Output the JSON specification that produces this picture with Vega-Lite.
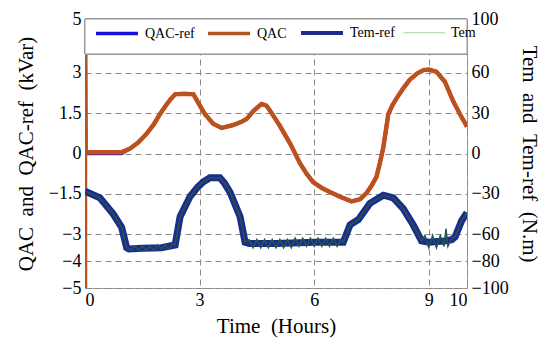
{
  "$schema": "https://vega.github.io/schema/vega-lite/v6.json",
  "width": 382,
  "height": 269,
  "autosize": "none",
  "padding": {"left": 85, "top": 19, "right": 83, "bottom": 60},
  "background": "white",
  "config": {
    "font": "Liberation Serif",
    "view": {"stroke": "#9a9a9a"},
    "axis": {
      "labelFont": "Liberation Serif", "labelFontSize": 18, "labelColor": "#000",
      "titleFont": "Liberation Serif", "titleFontSize": 21, "titleFontWeight": "normal", "titleColor": "#000",
      "ticks": false, "domain": false, "gridColor": "#8a8a8a", "gridDash": [6, 4], "gridOpacity": 1, "labelPadding": 4
    },
    "legend": {
      "labelFont": "Liberation Serif", "labelFontSize": 14, "labelColor": "#000",
      "symbolType": "stroke", "symbolSize": 1764, "labelOffset": 5, "columnPadding": 6, "padding": 0
    }
  },
  "data": {"values": [
    {"t": 0, "series": "QAC", "v": -6},
    {"t": 0, "series": "QAC", "v": 6},
    {"t": 0.02, "series": "QAC", "v": 0.05},
    {"t": 0.5, "series": "QAC", "v": 0.05},
    {"t": 0.96, "series": "QAC", "v": 0.05},
    {"t": 1.18, "series": "QAC", "v": 0.18},
    {"t": 1.4, "series": "QAC", "v": 0.42},
    {"t": 1.61, "series": "QAC", "v": 0.73},
    {"t": 1.8, "series": "QAC", "v": 1.08},
    {"t": 1.96, "series": "QAC", "v": 1.46},
    {"t": 2.1, "series": "QAC", "v": 1.75},
    {"t": 2.23, "series": "QAC", "v": 2.0},
    {"t": 2.36, "series": "QAC", "v": 2.2},
    {"t": 2.6, "series": "QAC", "v": 2.22},
    {"t": 2.84, "series": "QAC", "v": 2.2},
    {"t": 3.0, "series": "QAC", "v": 1.8},
    {"t": 3.14, "series": "QAC", "v": 1.46},
    {"t": 3.36, "series": "QAC", "v": 1.1},
    {"t": 3.58, "series": "QAC", "v": 0.95},
    {"t": 3.88, "series": "QAC", "v": 1.06},
    {"t": 4.1, "series": "QAC", "v": 1.18},
    {"t": 4.23, "series": "QAC", "v": 1.28},
    {"t": 4.4, "series": "QAC", "v": 1.57},
    {"t": 4.62, "series": "QAC", "v": 1.84},
    {"t": 4.75, "series": "QAC", "v": 1.78},
    {"t": 4.84, "series": "QAC", "v": 1.6},
    {"t": 5.0, "series": "QAC", "v": 1.25},
    {"t": 5.1, "series": "QAC", "v": 1.03},
    {"t": 5.37, "series": "QAC", "v": 0.37},
    {"t": 5.63, "series": "QAC", "v": -0.37},
    {"t": 5.8, "series": "QAC", "v": -0.75},
    {"t": 5.97, "series": "QAC", "v": -1.06},
    {"t": 6.2, "series": "QAC", "v": -1.28},
    {"t": 6.41, "series": "QAC", "v": -1.43},
    {"t": 6.7, "series": "QAC", "v": -1.62},
    {"t": 6.98, "series": "QAC", "v": -1.78},
    {"t": 7.2, "series": "QAC", "v": -1.7},
    {"t": 7.37, "series": "QAC", "v": -1.47},
    {"t": 7.5, "series": "QAC", "v": -1.2},
    {"t": 7.63, "series": "QAC", "v": -0.87},
    {"t": 7.72, "series": "QAC", "v": -0.35},
    {"t": 7.81, "series": "QAC", "v": 0.23},
    {"t": 7.94, "series": "QAC", "v": 1.46},
    {"t": 8.05, "series": "QAC", "v": 1.8},
    {"t": 8.16, "series": "QAC", "v": 2.06},
    {"t": 8.33, "series": "QAC", "v": 2.42},
    {"t": 8.5, "series": "QAC", "v": 2.74},
    {"t": 8.7, "series": "QAC", "v": 2.98},
    {"t": 8.86, "series": "QAC", "v": 3.1},
    {"t": 9.0, "series": "QAC", "v": 3.12},
    {"t": 9.2, "series": "QAC", "v": 3.04},
    {"t": 9.42, "series": "QAC", "v": 2.67},
    {"t": 9.64, "series": "QAC", "v": 1.94},
    {"t": 9.82, "series": "QAC", "v": 1.45},
    {"t": 10.0, "series": "QAC", "v": 1.0},

    {"t": 0, "series": "QAC-ref", "v": 0.0},
    {"t": 0.96, "series": "QAC-ref", "v": 0.0},
    {"t": 1.18, "series": "QAC-ref", "v": 0.18},
    {"t": 1.4, "series": "QAC-ref", "v": 0.42},
    {"t": 1.61, "series": "QAC-ref", "v": 0.73},
    {"t": 1.8, "series": "QAC-ref", "v": 1.08},
    {"t": 1.96, "series": "QAC-ref", "v": 1.46},
    {"t": 2.1, "series": "QAC-ref", "v": 1.75},
    {"t": 2.23, "series": "QAC-ref", "v": 2.0},
    {"t": 2.36, "series": "QAC-ref", "v": 2.2},
    {"t": 2.6, "series": "QAC-ref", "v": 2.22},
    {"t": 2.84, "series": "QAC-ref", "v": 2.2},
    {"t": 3.0, "series": "QAC-ref", "v": 1.8},
    {"t": 3.14, "series": "QAC-ref", "v": 1.46},
    {"t": 3.36, "series": "QAC-ref", "v": 1.1},
    {"t": 3.58, "series": "QAC-ref", "v": 0.95},
    {"t": 3.88, "series": "QAC-ref", "v": 1.06},
    {"t": 4.1, "series": "QAC-ref", "v": 1.18},
    {"t": 4.23, "series": "QAC-ref", "v": 1.28},
    {"t": 4.4, "series": "QAC-ref", "v": 1.57},
    {"t": 4.62, "series": "QAC-ref", "v": 1.84},
    {"t": 4.75, "series": "QAC-ref", "v": 1.78},
    {"t": 4.84, "series": "QAC-ref", "v": 1.6},
    {"t": 5.0, "series": "QAC-ref", "v": 1.25},
    {"t": 5.1, "series": "QAC-ref", "v": 1.03},
    {"t": 5.37, "series": "QAC-ref", "v": 0.37},
    {"t": 5.63, "series": "QAC-ref", "v": -0.37},
    {"t": 5.8, "series": "QAC-ref", "v": -0.75},
    {"t": 5.97, "series": "QAC-ref", "v": -1.06},
    {"t": 6.2, "series": "QAC-ref", "v": -1.28},
    {"t": 6.41, "series": "QAC-ref", "v": -1.43},
    {"t": 6.7, "series": "QAC-ref", "v": -1.62},
    {"t": 6.98, "series": "QAC-ref", "v": -1.78},
    {"t": 7.2, "series": "QAC-ref", "v": -1.7},
    {"t": 7.37, "series": "QAC-ref", "v": -1.47},
    {"t": 7.5, "series": "QAC-ref", "v": -1.2},
    {"t": 7.63, "series": "QAC-ref", "v": -0.87},
    {"t": 7.72, "series": "QAC-ref", "v": -0.35},
    {"t": 7.81, "series": "QAC-ref", "v": 0.23},
    {"t": 7.94, "series": "QAC-ref", "v": 1.46},
    {"t": 8.05, "series": "QAC-ref", "v": 1.8},
    {"t": 8.16, "series": "QAC-ref", "v": 2.06},
    {"t": 8.33, "series": "QAC-ref", "v": 2.42},
    {"t": 8.5, "series": "QAC-ref", "v": 2.74},
    {"t": 8.7, "series": "QAC-ref", "v": 2.98},
    {"t": 8.86, "series": "QAC-ref", "v": 3.1},
    {"t": 9.0, "series": "QAC-ref", "v": 3.12},
    {"t": 9.2, "series": "QAC-ref", "v": 3.04},
    {"t": 9.42, "series": "QAC-ref", "v": 2.67},
    {"t": 9.64, "series": "QAC-ref", "v": 1.94},
    {"t": 9.82, "series": "QAC-ref", "v": 1.45},
    {"t": 10.0, "series": "QAC-ref", "v": 1.0},

    {"t": 0, "series": "Tem-ref", "v": -28},
    {"t": 0.39, "series": "Tem-ref", "v": -33},
    {"t": 0.74, "series": "Tem-ref", "v": -45},
    {"t": 0.96, "series": "Tem-ref", "v": -55},
    {"t": 1.09, "series": "Tem-ref", "v": -70},
    {"t": 1.15, "series": "Tem-ref", "v": -71},
    {"t": 1.5, "series": "Tem-ref", "v": -70.5},
    {"t": 2.0, "series": "Tem-ref", "v": -70},
    {"t": 2.36, "series": "Tem-ref", "v": -68},
    {"t": 2.49, "series": "Tem-ref", "v": -47},
    {"t": 2.75, "series": "Tem-ref", "v": -32},
    {"t": 2.95, "series": "Tem-ref", "v": -25},
    {"t": 3.1, "series": "Tem-ref", "v": -21},
    {"t": 3.27, "series": "Tem-ref", "v": -18},
    {"t": 3.53, "series": "Tem-ref", "v": -18},
    {"t": 3.65, "series": "Tem-ref", "v": -22},
    {"t": 3.8, "series": "Tem-ref", "v": -29},
    {"t": 4.06, "series": "Tem-ref", "v": -47},
    {"t": 4.19, "series": "Tem-ref", "v": -66},
    {"t": 4.3, "series": "Tem-ref", "v": -67},
    {"t": 5.0, "series": "Tem-ref", "v": -67},
    {"t": 6.0, "series": "Tem-ref", "v": -66},
    {"t": 6.76, "series": "Tem-ref", "v": -66},
    {"t": 6.94, "series": "Tem-ref", "v": -53},
    {"t": 7.16, "series": "Tem-ref", "v": -49},
    {"t": 7.46, "series": "Tem-ref", "v": -37},
    {"t": 7.81, "series": "Tem-ref", "v": -31},
    {"t": 8.07, "series": "Tem-ref", "v": -33},
    {"t": 8.33, "series": "Tem-ref", "v": -41},
    {"t": 8.59, "series": "Tem-ref", "v": -53},
    {"t": 8.81, "series": "Tem-ref", "v": -65},
    {"t": 9.0, "series": "Tem-ref", "v": -66},
    {"t": 9.4, "series": "Tem-ref", "v": -65},
    {"t": 9.6, "series": "Tem-ref", "v": -64},
    {"t": 9.69, "series": "Tem-ref", "v": -62},
    {"t": 9.86, "series": "Tem-ref", "v": -50},
    {"t": 10.0, "series": "Tem-ref", "v": -44},

    {"t": 0, "series": "Tem", "v": -28},
    {"t": 0.39, "series": "Tem", "v": -33},
    {"t": 0.74, "series": "Tem", "v": -45},
    {"t": 0.96, "series": "Tem", "v": -55},
    {"t": 1.09, "series": "Tem", "v": -70},
    {"t": 1.2, "series": "Tem", "v": -72},
    {"t": 1.3, "series": "Tem", "v": -69},
    {"t": 1.4, "series": "Tem", "v": -72},
    {"t": 1.5, "series": "Tem", "v": -69},
    {"t": 1.6, "series": "Tem", "v": -72},
    {"t": 1.7, "series": "Tem", "v": -69},
    {"t": 1.8, "series": "Tem", "v": -72},
    {"t": 1.9, "series": "Tem", "v": -68},
    {"t": 2.0, "series": "Tem", "v": -71},
    {"t": 2.1, "series": "Tem", "v": -68},
    {"t": 2.2, "series": "Tem", "v": -71},
    {"t": 2.3, "series": "Tem", "v": -67},
    {"t": 2.36, "series": "Tem", "v": -68},
    {"t": 2.49, "series": "Tem", "v": -47},
    {"t": 2.75, "series": "Tem", "v": -32},
    {"t": 2.95, "series": "Tem", "v": -25},
    {"t": 3.1, "series": "Tem", "v": -21},
    {"t": 3.27, "series": "Tem", "v": -18},
    {"t": 3.53, "series": "Tem", "v": -18},
    {"t": 3.65, "series": "Tem", "v": -22},
    {"t": 3.8, "series": "Tem", "v": -29},
    {"t": 4.06, "series": "Tem", "v": -47},
    {"t": 4.19, "series": "Tem", "v": -66},
    {"t": 4.3, "series": "Tem", "v": -64},
    {"t": 4.4, "series": "Tem", "v": -70},
    {"t": 4.5, "series": "Tem", "v": -64},
    {"t": 4.6, "series": "Tem", "v": -70},
    {"t": 4.7, "series": "Tem", "v": -64},
    {"t": 4.8, "series": "Tem", "v": -70},
    {"t": 4.9, "series": "Tem", "v": -64},
    {"t": 5.0, "series": "Tem", "v": -70},
    {"t": 5.1, "series": "Tem", "v": -64},
    {"t": 5.2, "series": "Tem", "v": -70},
    {"t": 5.3, "series": "Tem", "v": -64},
    {"t": 5.4, "series": "Tem", "v": -70},
    {"t": 5.5, "series": "Tem", "v": -63},
    {"t": 5.6, "series": "Tem", "v": -69},
    {"t": 5.7, "series": "Tem", "v": -63},
    {"t": 5.8, "series": "Tem", "v": -69},
    {"t": 5.9, "series": "Tem", "v": -63},
    {"t": 6.0, "series": "Tem", "v": -69},
    {"t": 6.1, "series": "Tem", "v": -63},
    {"t": 6.2, "series": "Tem", "v": -69},
    {"t": 6.3, "series": "Tem", "v": -63},
    {"t": 6.4, "series": "Tem", "v": -69},
    {"t": 6.5, "series": "Tem", "v": -63},
    {"t": 6.6, "series": "Tem", "v": -69},
    {"t": 6.7, "series": "Tem", "v": -64},
    {"t": 6.76, "series": "Tem", "v": -66},
    {"t": 6.94, "series": "Tem", "v": -53},
    {"t": 7.16, "series": "Tem", "v": -49},
    {"t": 7.46, "series": "Tem", "v": -37},
    {"t": 7.81, "series": "Tem", "v": -31},
    {"t": 8.07, "series": "Tem", "v": -33},
    {"t": 8.33, "series": "Tem", "v": -41},
    {"t": 8.59, "series": "Tem", "v": -53},
    {"t": 8.81, "series": "Tem", "v": -65},
    {"t": 8.9, "series": "Tem", "v": -61},
    {"t": 9.0, "series": "Tem", "v": -70},
    {"t": 9.1, "series": "Tem", "v": -61},
    {"t": 9.2, "series": "Tem", "v": -70},
    {"t": 9.3, "series": "Tem", "v": -61},
    {"t": 9.4, "series": "Tem", "v": -69},
    {"t": 9.45, "series": "Tem", "v": -56},
    {"t": 9.5, "series": "Tem", "v": -69},
    {"t": 9.6, "series": "Tem", "v": -63},
    {"t": 9.69, "series": "Tem", "v": -62},
    {"t": 9.86, "series": "Tem", "v": -50},
    {"t": 10.0, "series": "Tem", "v": -44}
  ]},
  "layer": [
    {
      "encoding": {
        "x": {"field": "t", "type": "quantitative", "scale": {"domain": [0, 10], "nice": false},
              "axis": {"values": [0, 3, 6, 9, 10], "title": "Time\u00a0\u00a0(Hours)", "titlePadding": 6, "labelPadding": 3, "grid": true}},
        "y": {"field": "v", "type": "quantitative", "scale": {"domain": [-5, 5], "nice": false},
              "axis": {"orient": "left", "values": [5, 3, 1.5, 0, -1.5, -3, -4, -5], "format": ".1~f", "grid": true,
                       "title": "QAC\u00a0\u00a0and\u00a0\u00a0QAC-ref\u00a0\u00a0(kVar)", "titlePadding": 12}}
      },
      "layer": [
        {
          "transform": [{"filter": "datum.series === 'QAC-ref'"}],
          "mark": {"type": "line", "clip": true},
          "encoding": {
            "color": {"field": "series", "type": "nominal", "scale": {"domain": ["QAC-ref", "QAC", "Tem-ref", "Tem"], "range": ["#1414d8", "#b0561e", "#1c2c8c", "#a9d3a0"]},
                      "legend": {"orient": "none", "legendX": 9, "legendY": -9, "direction": "horizontal", "title": null}},
            "strokeWidth": {"field": "series", "type": "ordinal", "scale": {"type": "ordinal", "domain": ["QAC-ref", "QAC", "Tem-ref", "Tem"], "range": [3.5, 3.5, 4, 1]}}
          }
        },
        {
          "transform": [{"filter": "datum.series === 'QAC'"}],
          "mark": {"type": "line", "clip": true, "color": "#f0401c", "strokeWidth": 4.5},
          "encoding": {}
        },
        {
          "transform": [{"filter": "datum.series === 'QAC'"}],
          "mark": {"type": "line", "clip": true},
          "encoding": {
            "color": {"field": "series", "type": "nominal", "scale": {"domain": ["QAC-ref", "QAC", "Tem-ref", "Tem"], "range": ["#1414d8", "#b0561e", "#1c2c8c", "#a9d3a0"]}},
            "strokeWidth": {"field": "series", "type": "ordinal", "scale": {"type": "ordinal", "domain": ["QAC-ref", "QAC", "Tem-ref", "Tem"], "range": [3.5, 2, 4, 1]}}
          }
        },
        {
          "mark": {"type": "rect", "fill": "white", "stroke": "#9a9a9a", "strokeWidth": 1},
          "encoding": {
            "x": {"datum": 0, "type": "quantitative"},
            "x2": {"datum": 10},
            "y": {"datum": 3.7, "type": "quantitative"},
            "y2": {"datum": 5}
          }
        }
      ]
    },
    {
      "encoding": {
        "x": {"field": "t", "type": "quantitative", "scale": {"domain": [0, 10], "nice": false}},
        "y": {"field": "v", "type": "quantitative", "scale": {"domain": [-100, 100], "nice": false},
              "axis": {"orient": "right", "values": [100, 60, 30, 0, -30, -60, -80, -100], "grid": false,
                       "title": "Tem\u00a0\u00a0and\u00a0\u00a0Tem-ref\u00a0\u00a0(N.m)", "titlePadding": 10}}
      },
      "layer": [
        {
          "transform": [{"filter": "datum.series === 'Tem'"}],
          "mark": {"type": "line", "clip": true},
          "encoding": {
            "color": {"field": "series", "type": "nominal", "scale": {"domain": ["QAC-ref", "QAC", "Tem-ref", "Tem"], "range": ["#1414d8", "#b0561e", "#1c2c8c", "#a9d3a0"]}},
            "strokeWidth": {"field": "series", "type": "ordinal", "scale": {"type": "ordinal", "domain": ["QAC-ref", "QAC", "Tem-ref", "Tem"], "range": [3.5, 3.5, 4, 1]}}
          }
        },
        {
          "transform": [{"filter": "datum.series === 'Tem-ref'"}],
          "mark": {"type": "line", "clip": true, "strokeWidth": 7},
          "encoding": {
            "color": {"field": "series", "type": "nominal", "scale": {"domain": ["QAC-ref", "QAC", "Tem-ref", "Tem"], "range": ["#1414d8", "#b0561e", "#1c2c8c", "#a9d3a0"]}}
          }
        },
        {
          "transform": [{"filter": "datum.series === 'Tem'"}],
          "mark": {"type": "line", "clip": true, "strokeWidth": 1.5, "color": "#23584a"},
          "encoding": {}
        }
      ]
    }
  ],
  "resolve": {"scale": {"y": "independent"}}
}
